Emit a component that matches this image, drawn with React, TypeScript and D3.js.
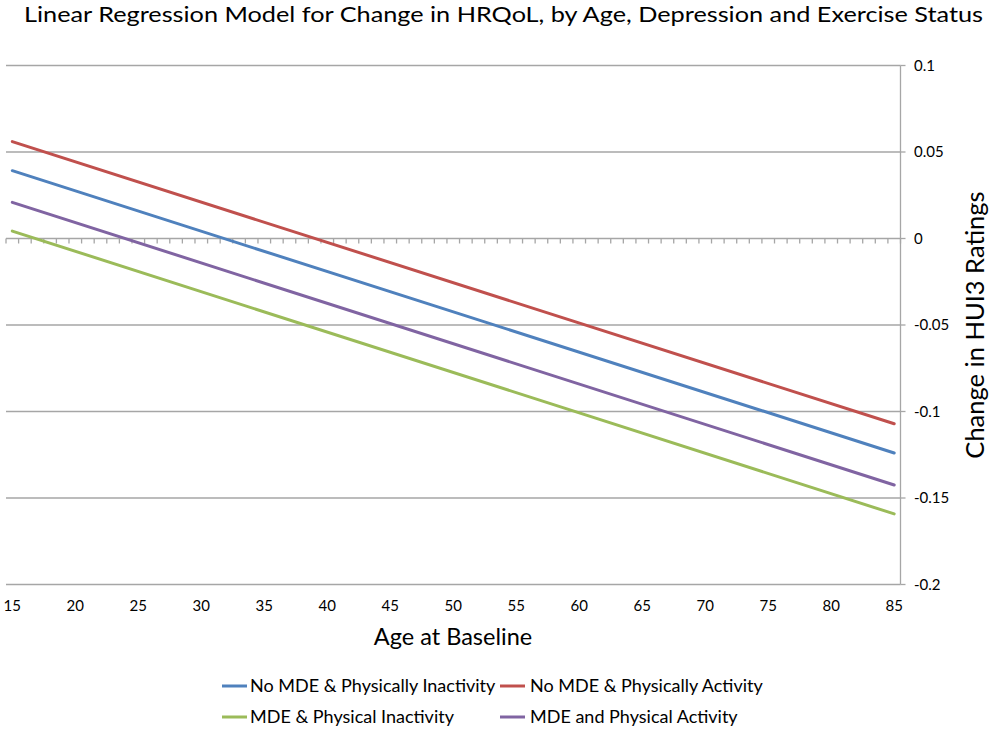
import React from "react";
import * as d3 from "d3";

const W = 992;
const H = 732;

const tickLabels = [15, 20, 25, 30, 35, 40, 45, 50, 55, 60, 65, 70, 75, 80, 85];
const yTicks = [0.1, 0.05, 0, -0.05, -0.1, -0.15, -0.2];

const seriesNames = [
  "No MDE & Physically Inactivity",
  "No MDE & Physically Activity",
  "MDE & Physical Inactivity",
  "MDE and Physical Activity",
];
const seriesColors = ["#4F81BD", "#C0504D", "#9BBB59", "#8064A2"];
const endAges = [15, 85];
const blueValues = [0.0392, -0.124];
const redValues = [0.056, -0.1071];
const greenValues = [0.0043, -0.1592];
const purpleValues = [0.0209, -0.1425];
const seriesValues = [blueValues, redValues, greenValues, purpleValues];

const FONT = "Lato, 'Open Sans', sans-serif";

export default function App() {
  const left = 6;
  const right = 900.5;
  const top = 65.5;
  const bottom = 584.5;
  const x = d3.scaleLinear().domain([14.5, 85.5]).range([left, right]);
  const y = d3.scaleLinear().domain([-0.2, 0.1]).range([bottom, top]);
  const line = d3
    .line<[number, number]>()
    .x((d) => x(d[0]))
    .y((d) => y(d[1]));
  const boundaries = d3.range(14.5, 86, 1);

  const legend = [
    { i: 0, sx: 222, tx: 250, ty: 692 },
    { i: 1, sx: 500, tx: 530, ty: 692 },
    { i: 2, sx: 222, tx: 250, ty: 723 },
    { i: 3, sx: 500, tx: 530, ty: 723 },
  ];

  return (
    <svg
      width={W}
      height={H}
      style={{ position: "absolute", left: 0, top: 0, background: "#fff" }}
      fontFamily={FONT}
    >
      <rect width={W} height={H} fill="#fff" />
      <text x={24} y={22} fontSize={21} fill="#000" textLength={959} lengthAdjust="spacingAndGlyphs">
        Linear Regression Model for Change in HRQoL, by Age, Depression and Exercise Status
      </text>
      {yTicks.map((t) => (
        <g key={t}>
          {t !== 0 && (
            <line x1={left} x2={right} y1={y(t)} y2={y(t)} stroke="#A6A6A6" strokeWidth={1.3} />
          )}
          <line x1={right} x2={right + 5} y1={y(t)} y2={y(t)} stroke="#A6A6A6" strokeWidth={1.3} />
          <text x={914} y={y(t) + 5} fontSize={15} fill="#000">
            {String(t)}
          </text>
        </g>
      ))}
      <line x1={right} x2={right} y1={top} y2={bottom} stroke="#A6A6A6" strokeWidth={1.3} />
      <line x1={left} x2={right} y1={y(0)} y2={y(0)} stroke="#A6A6A6" strokeWidth={1.3} />
      {boundaries.map((b) => (
        <line key={b} x1={x(b)} x2={x(b)} y1={y(0)} y2={y(0) + 5} stroke="#A6A6A6" strokeWidth={1.3} />
      ))}
      {seriesValues.map((vals, i) => (
        <path
          key={i}
          d={line(endAges.map((a, k) => [a, vals[k]] as [number, number])) || ""}
          fill="none"
          stroke={seriesColors[i]}
          strokeWidth={3}
          strokeLinecap="round"
        />
      ))}
      {tickLabels.map((a) => (
        <text key={a} x={x(a)} y={611} fontSize={15} textAnchor="middle" fill="#000">
          {a}
        </text>
      ))}
      <text x={453} y={645} fontSize={23.5} textAnchor="middle" fill="#000">
        Age at Baseline
      </text>
      <text
        transform={`translate(984, 325) rotate(-90)`}
        fontSize={25.5}
        textAnchor="middle"
        fill="#000"
      >
        Change in HUI3 Ratings
      </text>
      {legend.map((l) => (
        <g key={l.i}>
          <line x1={l.sx} x2={l.sx + 25} y1={l.ty - 6} y2={l.ty - 6} stroke={seriesColors[l.i]} strokeWidth={3} />
          <text x={l.tx} y={l.ty} fontSize={18} fill="#000">
            {seriesNames[l.i]}
          </text>
        </g>
      ))}
    </svg>
  );
}
